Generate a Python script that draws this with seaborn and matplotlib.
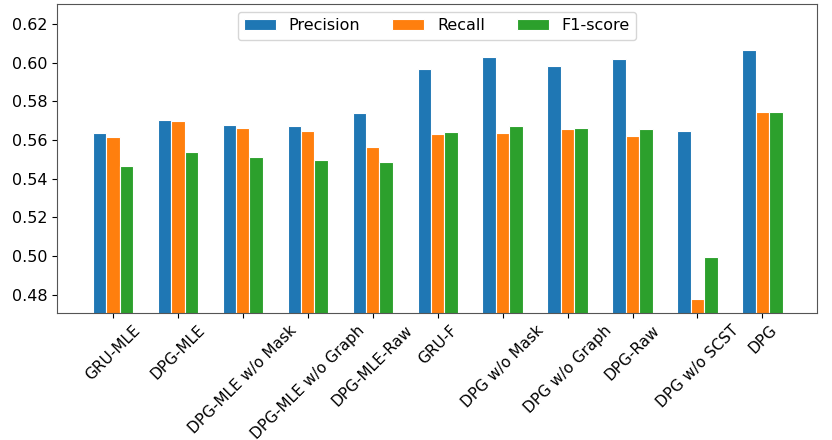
import pandas as pd
import matplotlib
matplotlib.use("Agg")
import matplotlib.pyplot as plt
import seaborn as sns

models = ['GRU-MLE', 'DPG-MLE', 'DPG-MLE w/o Mask', 'DPG-MLE w/o Graph', 'DPG-MLE-Raw',
          'GRU-F', 'DPG w/o Mask', 'DPG w/o Graph', 'DPG-Raw', 'DPG w/o SCST', 'DPG']
precision = [0.5635, 0.5704, 0.5678, 0.5670, 0.5739, 0.5966, 0.6028, 0.5985, 0.6018, 0.5646, 0.6064]
recall = [0.5615, 0.5697, 0.5663, 0.5647, 0.5565, 0.5632, 0.5637, 0.5658, 0.5621, 0.4780, 0.5744]
f1 = [0.5467, 0.5539, 0.5513, 0.5498, 0.5487, 0.5642, 0.5670, 0.5664, 0.5656, 0.4993, 0.5744]
metrics = ['Precision', 'Recall', 'F1-score']
colors = ['#1f77b4', '#ff7f0e', '#2ca02c']

df = pd.DataFrame({'model': models, 'Precision': precision, 'Recall': recall, 'F1-score': f1})
long = df.melt(id_vars='model', var_name='metric', value_name='score')

fig = plt.figure(figsize=(8.32, 4.4), dpi=100)
ax = fig.add_axes([0.0685, 0.289, 0.9135, 0.702])
sns.barplot(data=long, x='model', y='score', hue='metric', hue_order=metrics,
            palette=colors, saturation=1, width=0.62, gap=0, edgecolor='white',
            linewidth=0.8, errorbar=None, ax=ax)

ax.set_ylim(0.4707, 0.6303)
ax.set_xlim(-0.86, 10.84)
ax.set_yticks([0.48, 0.50, 0.52, 0.54, 0.56, 0.58, 0.60, 0.62])
ax.set_xlabel('')
ax.set_ylabel('')
ax.tick_params(axis='y', labelsize=11.5)
ax.tick_params(axis='x', labelsize=11, labelrotation=45)
for s in ax.spines.values():
    s.set_color('#555555')

ax.legend(loc='upper center', ncol=3, fontsize=11.5)
fig.savefig('out.png', dpi=100)
